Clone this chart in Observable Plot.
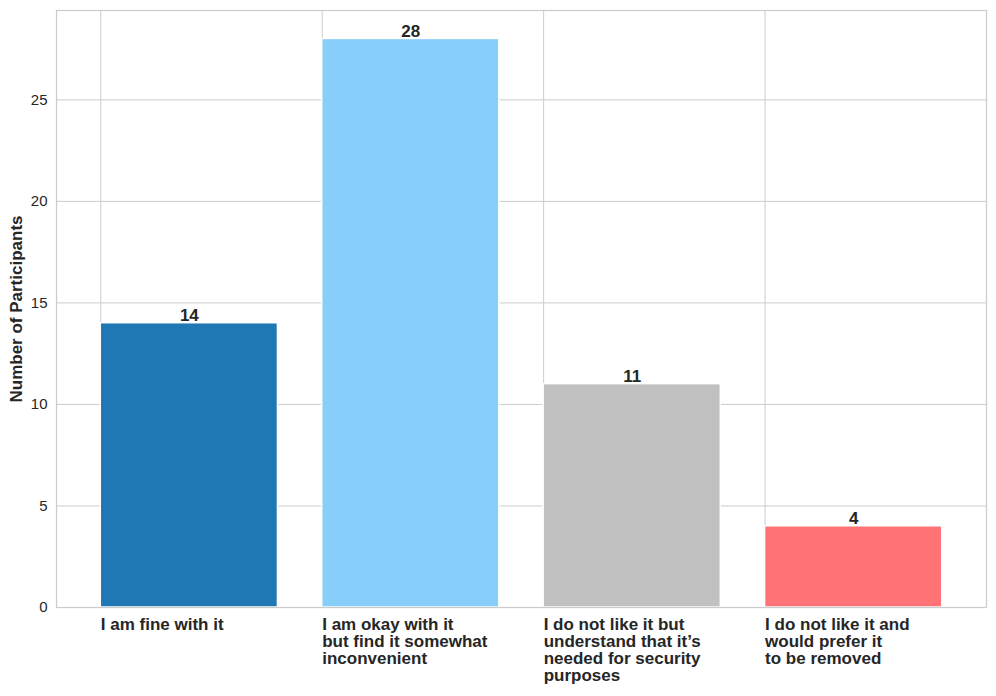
<!DOCTYPE html>
<html>
<head>
<meta charset="utf-8">
<script src="https://cdn.jsdelivr.net/npm/d3@7"></script>
<script src="https://cdn.jsdelivr.net/npm/@observablehq/plot@0.6"></script>
<style>
  html, body { margin: 0; padding: 0; background: #fff; }
  svg { font-family: "Liberation Sans", Arial, sans-serif; }
</style>
</head>
<body>
<div id="chart"></div>
<script>
const categories = [
  "I am fine with it",
  "I am okay with it\nbut find it somewhat\ninconvenient",
  "I do not like it but\nunderstand that it\u2019s\nneeded for security\npurposes",
  "I do not like it and\nwould prefer it\nto be removed"
];
const counts = [14, 28, 11, 4];
const colors = ["#1f77b4", "#87cefa", "#c0c0c0", "#ff7276"];
const yTicks = [0, 5, 10, 15, 20, 25];
const yLabel = "Number of Participants";

const data = categories.map((c, i) => ({cat: c, i, value: counts[i], color: colors[i]}));

const chart = Plot.plot({
  width: 996,
  height: 696,
  marginLeft: 56,
  marginRight: 10,
  marginTop: 10,
  marginBottom: 89,
  style: {fontFamily: '"Liberation Sans", Arial, sans-serif', color: "#262626", background: "#fff"},
  x: {type: "linear", domain: [-0.6, 3.6], axis: null},
  y: {domain: [0, 29.4], axis: null},
  marks: [
    Plot.gridY(yTicks, {stroke: "#cccccc", strokeOpacity: 1, strokeWidth: 1}),
    Plot.ruleX(data, {x: d => d.i - 0.4, stroke: "#cccccc", strokeOpacity: 1, strokeWidth: 1}),
    Plot.rectY(data, {x1: d => d.i - 0.4, x2: d => d.i + 0.4, y1: 0, y2: "value", fill: "color", stroke: "#ffffff", strokeWidth: 1.5}),
    Plot.text(data, {x: "i", y: "value", text: d => String(d.value), lineAnchor: "bottom", dy: -2, fontWeight: "bold", fontSize: 17, fill: "#262626"}),
    Plot.axisY(yTicks, {tickSize: 0, tickPadding: 9, fontSize: 15, label: null, fill: "#262626"}),
    Plot.text(data, {x: d => d.i - 0.4, y: 0, text: "cat", textAnchor: "start", lineAnchor: "top", dy: 10, lineHeight: 1.0, fontWeight: "bold", fontSize: 17, fill: "#262626"}),
    Plot.text([yLabel], {frameAnchor: "left", dx: -40, rotate: -90, textAnchor: "middle", fontWeight: "bold", fontSize: 17, fill: "#262626"}),
    Plot.frame({stroke: "#cccccc", strokeWidth: 1.25})
  ]
});
document.getElementById("chart").appendChild(chart);
</script>
</body>
</html>
